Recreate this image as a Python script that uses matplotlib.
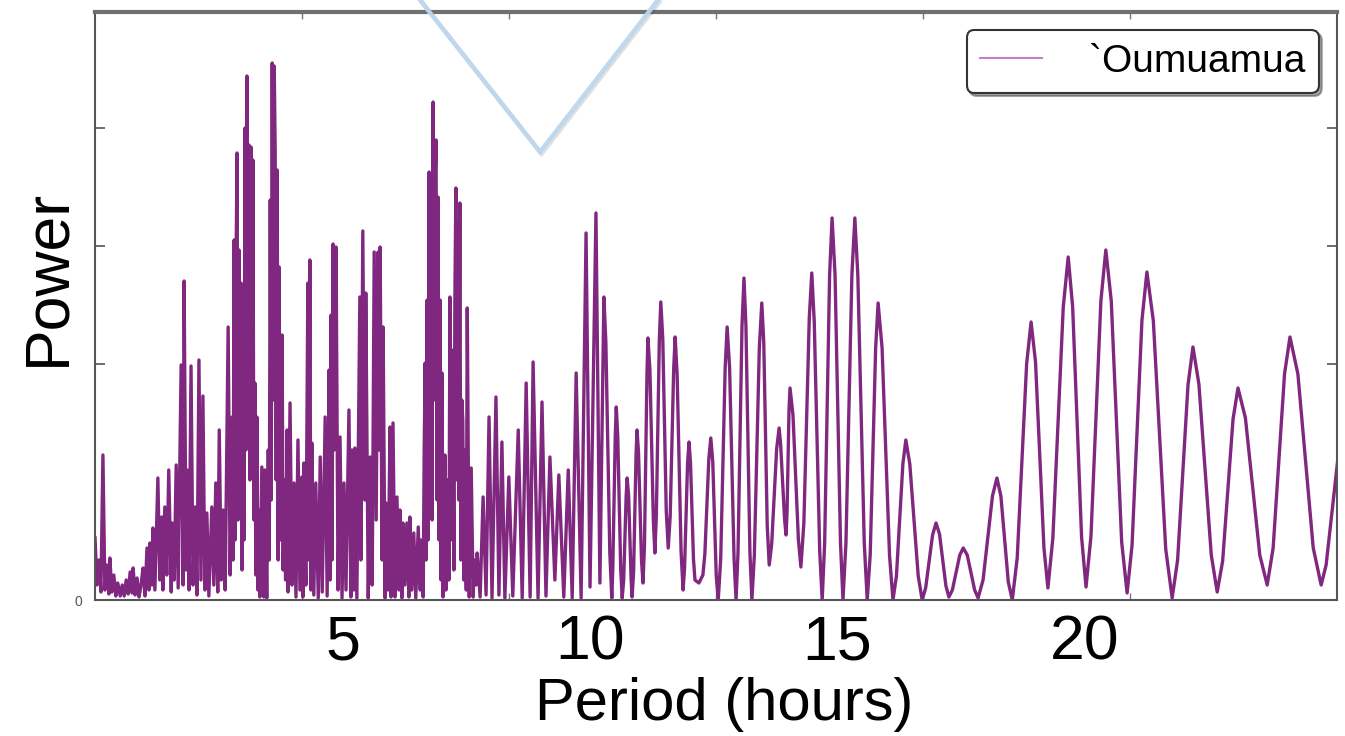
import matplotlib
matplotlib.use('Agg')
import matplotlib.pyplot as plt
import matplotlib.patheffects as pe
from matplotlib.lines import Line2D

plt.rcParams['font.family'] = ['Liberation Sans', 'DejaVu Sans']

# Lomb-Scargle style periodogram: period in hours, power in arbitrary units
period_hours = [
    0.00, 0.04, 0.08, 0.12, 0.16, 0.20, 0.24, 0.28, 0.30, 0.34, 0.38, 0.42, 0.46, 0.51,
    0.55, 0.59, 0.63, 0.67, 0.71, 0.75, 0.77, 0.81, 0.85, 0.89, 0.93, 0.97, 1.01, 1.05,
    1.09, 1.11, 1.15, 1.17, 1.21, 1.27, 1.31, 1.35, 1.37, 1.41, 1.45, 1.49, 1.54, 1.56,
    1.60, 1.64, 1.68, 1.74, 1.78, 1.80, 1.84, 1.86, 1.90, 1.94, 1.98, 2.02, 2.06, 2.10,
    2.14, 2.18, 2.22, 2.26, 2.30, 2.36, 2.40, 2.44, 2.48, 2.51, 2.55, 2.59, 2.63, 2.69,
    2.73, 2.77,
    2.79, 2.81, 2.83, 2.85, 2.87, 2.89, 2.91, 2.93, 2.95, 2.97, 2.99, 3.01, 3.03, 3.05,
    3.07, 3.09, 3.11, 3.13, 3.15, 3.17, 3.19, 3.21, 3.23, 3.25, 3.27, 3.29, 3.31, 3.33,
    3.37, 3.41, 3.43, 3.47, 3.50, 3.52, 3.54, 3.56, 3.58, 3.60, 3.62, 3.64, 3.66, 3.68,
    3.70, 3.72, 3.74, 3.76, 3.78, 3.80, 3.82, 3.85,
    3.88, 3.90, 3.94, 3.98, 4.02, 4.06, 4.10, 4.14, 4.18, 4.20, 4.22, 4.26, 4.30, 4.32,
    4.34, 4.36, 4.38, 4.42, 4.46, 4.51, 4.55, 4.59, 4.65, 4.69, 4.73, 4.75, 4.77, 4.79,
    4.81, 4.83, 4.87, 4.91, 4.95, 4.99, 5.03, 5.07, 5.13, 5.17, 5.19, 5.23, 5.25, 5.29,
    5.35, 5.37, 5.41, 5.45, 5.47, 5.52, 5.56, 5.60, 5.64, 5.68, 5.72, 5.74, 5.76, 5.80,
    5.82, 5.86, 5.88, 5.92, 5.96, 5.98, 6.02, 6.06, 6.10, 6.14, 6.16, 6.20, 6.22, 6.26,
    6.30, 6.34, 6.36, 6.40, 6.44, 6.48, 6.53, 6.57, 6.59, 6.63,
    6.65, 6.67, 6.69, 6.71, 6.73, 6.75, 6.77, 6.79, 6.81, 6.83, 6.85, 6.87, 6.89, 6.91,
    6.93, 6.95, 6.97, 6.99, 7.01, 7.03, 7.05, 7.07, 7.09, 7.13, 7.15, 7.17, 7.19, 7.21,
    7.23, 7.25, 7.27, 7.29, 7.31, 7.33, 7.35, 7.37, 7.39, 7.41, 7.43, 7.45, 7.47, 7.50,
    7.52,
    7.56, 7.60, 7.64, 7.66, 7.70, 7.72, 7.78, 7.84, 7.90, 7.96, 8.02, 8.10, 8.16, 8.22,
    8.28, 8.36, 8.44, 8.55, 8.63, 8.71, 8.79, 8.85, 8.95, 9.03, 9.11, 9.19, 9.29, 9.37,
    9.47, 9.56, 9.64, 9.72, 9.82, 9.92, 10.00,
    10.12, 10.20, 10.28, 10.32, 10.40, 10.44, 10.46, 10.51, 10.53, 10.56, 10.62, 10.65,
    10.68, 10.73, 10.75, 10.78, 10.83, 10.85, 10.88, 10.93, 10.95, 10.98, 11.04, 11.07,
    11.10, 11.15, 11.17, 11.21, 11.28, 11.31, 11.34, 11.40, 11.43, 11.47, 11.54, 11.58,
    11.62, 11.69, 11.72, 11.76, 11.84, 11.88, 11.91, 11.97, 12.00, 12.03, 12.09, 12.12,
    12.20, 12.28, 12.32, 12.40, 12.44, 12.48, 12.55, 12.59, 12.64, 12.73, 12.77, 12.82,
    12.91, 12.95, 12.99, 13.07, 13.11, 13.15, 13.23, 13.27, 13.32, 13.42, 13.47, 13.51,
    13.58, 13.62, 13.67, 13.77, 13.82, 13.85, 13.93, 13.96, 13.98, 14.02, 14.04, 14.10,
    14.21, 14.26, 14.32, 14.43, 14.48, 14.53, 14.64, 14.69, 14.74, 14.84, 14.89, 14.95,
    15.06, 15.11, 15.17, 15.29, 15.35, 15.41, 15.54, 15.60, 15.66, 15.77, 15.82, 15.90,
    16.05, 16.12, 16.19, 16.32, 16.38, 16.46, 16.63, 16.71, 16.78, 16.92, 16.99, 17.06,
    17.19, 17.25, 17.32, 17.47, 17.54, 17.62, 17.77, 17.84, 17.94, 18.13, 18.22, 18.30,
    18.45, 18.53, 18.63, 18.82, 18.91, 19.00, 19.17, 19.25, 19.35, 19.56, 19.66, 19.75,
    19.93, 20.02, 20.12, 20.32, 20.42, 20.53, 20.74, 20.85, 20.95, 21.15, 21.25, 21.38,
    21.63, 21.76, 21.87, 22.08, 22.18, 22.30, 22.55, 22.67, 22.78, 22.99, 23.09, 23.24,
    23.53, 23.68, 23.80, 24.03, 24.14, 24.30, 24.61, 24.77, 24.87, 25.15,
]
power = [
    63, 15, 40, 8, 145, 10, 35, 6, 42, 8, 25, 4, 17, 4,
    15, 4, 20, 6, 28, 7, 32, 5, 22, 3, 15, 32, 4, 52,
    10, 57, 15, 72, 10, 122, 20, 83, 10, 93, 25, 130, 8, 77,
    20, 135, 12, 235, 15, 319, 30, 130, 10, 234, 15, 93, 5, 240,
    20, 204, 10, 87, 4, 93, 15, 117, 8, 170, 20, 90, 10, 273,
    25, 183,
    40, 360, 60, 340, 447, 80, 350, 120, 317, 30, 250, 60, 472, 150,
    524, 200, 455, 120, 453, 160, 440, 80, 217, 25, 183, 10, 90, 3,
    133, 3, 130, 2, 150, 40, 400, 100, 537, 200, 534, 450, 120, 430,
    40, 333, 60, 180, 265, 30, 120, 20,
    170, 8, 197, 15, 117, 3, 160, 10, 123, 3, 137, 15, 317, 40,
    340, 10, 157, 5, 117, 2, 143, 8, 183, 4, 230, 20, 285, 40,
    356, 150, 353, 10, 163, 2, 117, 10, 190, 3, 150, 10, 152, 2,
    303, 40, 369, 100, 307, 2, 143, 15, 348, 80, 348, 150, 353, 40,
    273, 2, 97, 10, 173, 3, 177, 3, 103, 10, 90, 2, 77, 15,
    77, 3, 83, 10, 67, 2, 73, 10, 60, 3,
    150, 237, 40, 300, 60, 428, 120, 400, 80, 498, 200, 420, 460, 100,
    403, 60, 300, 20, 227, 3, 100, 145, 10, 120, 20, 303, 60, 250,
    200, 30, 300, 412, 120, 380, 100, 397, 40, 200, 180, 20, 150, 10,
    292,
    3, 132, 3, 40, 15, 47, 3, 103, 5, 183, 2, 203, 5, 158,
    2, 123, 4, 170, 2, 217, 3, 238, 2, 198, 4, 143, 20, 125,
    3, 130, 2, 227, 2, 367, 13,
    387, 17, 303, 258, 47, 2, 31, 164, 193, 164, 31, 2,
    20, 104, 122, 104, 21, 3, 28, 145, 170, 147, 40, 17,
    54, 225, 262, 230, 79, 47, 85, 260, 298, 261, 89, 52,
    84, 231, 263, 225, 48, 10, 32, 136, 158, 137, 41, 20,
    17, 25, 46, 141, 162, 138, 24, 0, 41, 232, 273, 232,
    41, 0, 48, 274, 322, 274, 48, 0, 45, 252, 297, 258,
    74, 35, 56, 151, 172, 156, 81, 65, 87, 190, 212, 185,
    60, 33, 77, 283, 327, 278, 49, 0, 57, 325, 382, 325,
    57, 0, 57, 325, 382, 325, 57, 0, 45, 252, 297, 252,
    45, 0, 24, 136, 160, 136, 24, 0, 12, 65, 77, 66,
    14, 3, 10, 45, 52, 45, 10, 2, 20, 104, 122, 104,
    18, 0, 42, 236, 278, 238, 52, 12, 62, 293, 343, 293,
    63, 13, 64, 299, 350, 299, 58, 7, 55, 280, 328, 279,
    51, 2, 40, 215, 253, 216, 45, 8, 39, 181, 212, 182,
    45, 15, 52, 226, 263, 226, 52, 15, 35, 160,
]

tick_hours = [5, 10, 15, 20]
tick_labels = ['5', '10', '15', '20']
minor_tick_hours = [4.18, 8.36, 12.55, 16.73, 20.91]
power_ticks = [0, 236, 354, 472]
power_tick_labels = ['0', '', '', '']
series_label = '`Oumuamua'

W, H = 1345, 736
fig = plt.figure(figsize=(W / 100, H / 100), dpi=100)
ax = fig.add_axes([95 / W, 136 / H, 1242 / W, 588 / H])

line_color = '#80287F'
ax.plot(period_hours, power, color=line_color, lw=2.4,
        solid_joinstyle='round', solid_capstyle='round')

ax.set_xlim(0, 25.09)
ax.set_ylim(0, 588)

# frame
for side in ['left', 'right', 'bottom']:
    ax.spines[side].set_color('#555555')
    ax.spines[side].set_linewidth(1.5)
ax.spines['top'].set_color('#707070')
ax.spines['top'].set_linewidth(3.0)

ax.set_xticks(tick_hours, tick_labels)
ax.set_xticks(minor_tick_hours, minor=True)
ax.tick_params(axis='x', which='major', length=0, labelsize=45, pad=9.5)
ax.tick_params(axis='x', which='minor', direction='in', length=5, width=1,
               color='#777777', top=True, bottom=True)
ax.set_yticks(power_ticks, power_tick_labels)
ax.tick_params(axis='y', direction='in', length=7, width=1.2, color='#555555',
               right=True, labelsize=10, labelcolor='#555555', pad=9)

fig.text(48 / W, 1 - 277 / H, 'Power', rotation=90, fontsize=45,
         ha='center', va='center')
fig.text(724 / W, 1 - 720 / H, 'Period (hours)', fontsize=43,
         ha='center', va='baseline')

handle = Line2D([], [], color='#C77DC7', lw=1.5)
leg = ax.legend([handle], [series_label], loc='upper right',
                bbox_to_anchor=(1319 / W, 1 - 30 / H), bbox_transform=fig.transFigure,
                borderaxespad=0, fontsize=28, handlelength=1.6, handletextpad=1.2,
                borderpad=0.35, fancybox=True, shadow=True, framealpha=1)
leg.get_frame().set_edgecolor('#333333')
leg.get_frame().set_linewidth(1.5)

# light blue pointer drawn over the top of the frame
pointer = Line2D([420 / W, 540 / W, 658 / W], [1.0, 1 - 152 / H, 1.0],
                 transform=fig.transFigure, color='#BDD7EE', lw=3.2, alpha=0.95,
                 solid_joinstyle='miter', zorder=10,
                 path_effects=[pe.SimpleLineShadow(offset=(1.2, -1.2), alpha=0.12),
                               pe.Normal()])
fig.add_artist(pointer)

fig.savefig('out.png', dpi=100)
